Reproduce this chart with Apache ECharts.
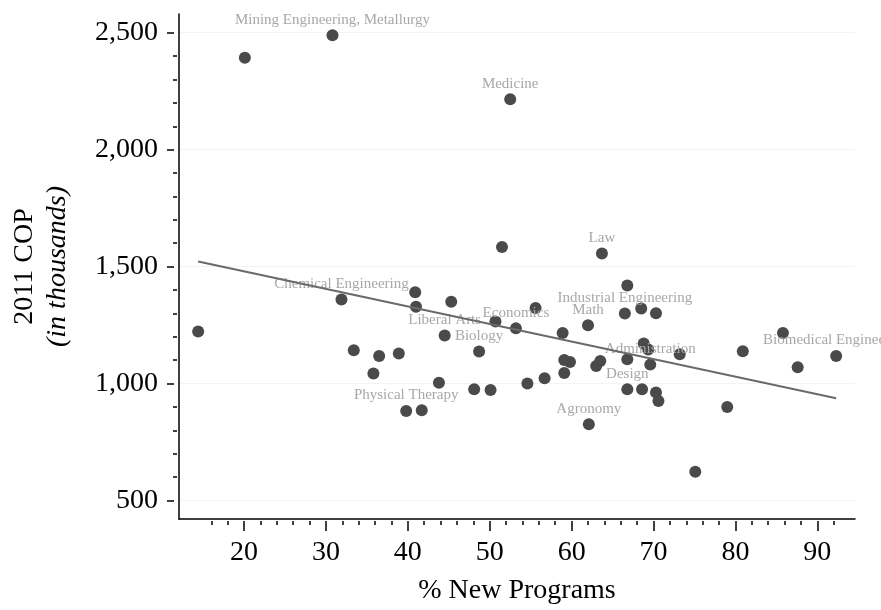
<!DOCTYPE html>
<html>
<head>
<meta charset="utf-8">
<script src="https://cdn.jsdelivr.net/npm/echarts@6/dist/echarts.min.js"></script>
<style>
  html, body { margin: 0; padding: 0; background: #fff; }
  #chart { width: 881px; height: 610px; }
</style>
</head>
<body>
<div id="chart"></div>
<script>
// % new programs (x) and 2011 COP in thousands (y)
const pctNew = [
  20.1, 30.8, 52.5, 14.4, 31.9, 40.9, 41.0, 45.3, 44.5, 33.4,
  36.5, 38.9, 35.8, 43.8, 39.8, 41.7, 48.7, 48.1, 50.1, 54.6,
  56.7, 59.1, 59.8, 59.1, 63.0, 63.5, 66.8, 68.8, 69.35, 69.6,
  73.2, 80.9, 87.6, 92.3, 66.8, 68.6, 70.3, 70.6, 79.0, 62.1,
  75.1, 51.5, 63.7, 66.8, 55.6, 50.7, 53.2, 58.9, 62.0, 66.5,
  68.5, 70.3, 85.8
];
const cop = [
  2393, 2489, 2216, 1223, 1359, 1390, 1328, 1350, 1206, 1142,
  1118, 1129, 1043, 1004, 883, 886, 1137, 976, 973, 1000,
  1023, 1101, 1092, 1045, 1075, 1096, 1104, 1171, 1146, 1081,
  1125, 1138, 1070, 1118, 976, 976, 962, 925, 900, 826,
  623, 1584, 1556, 1419, 1323, 1265, 1236, 1216, 1249, 1300,
  1321, 1301, 1216
];
const programs = [
  '', 'Mining Engineering, Metallurgy', 'Medicine', '', 'Chemical Engineering', '', '', '', 'Liberal Arts', '',
  '', '', '', '', 'Physical Therapy', '', 'Biology', '', '', '',
  '', '', '', '', '', '', '', '', '', 'Administration',
  '', '', '', 'Biomedical Engineering', 'Design', '', '', '', '', 'Agronomy',
  '', '', 'Law', '', '', '', 'Economics', '', 'Math', 'Industrial Engineering',
  '', '', ''
];

// fitted line end points
const fitX = [14.4, 92.3];
const fitY = [1522, 937];

const xTicks = [20, 30, 40, 50, 60, 70, 80, 90];
const xMinor = [16, 18, 22, 24, 26, 28, 32, 34, 36, 38, 42, 44, 46, 48, 52, 54, 56, 58,
  62, 64, 66, 68, 72, 74, 76, 78, 82, 84, 86, 88, 92];
const yTicks = [500, 1000, 1500, 2000, 2500];
const yMinor = [600, 700, 800, 900, 1100, 1200, 1300, 1400, 1600, 1700, 1800, 1900,
  2100, 2200, 2300, 2400];

const X_MIN = 12.06, X_MAX = 94.6;
const Y_MIN = 421, Y_MAX = 2580;
const serif = 'Liberation Serif';

const chart = echarts.init(document.getElementById('chart'));

const fmt = v => String(v).replace(/\B(?=(\d{3})+(?!\d))/g, ',');

// extra axes that only carry ticks (sit a little off the axis line)
const tickAxis = (pos, vals, len, off, min, max) => ({
  type: 'value', position: pos, min: min, max: max, offset: off,
  axisLine: { show: false },
  axisTick: { show: true, customValues: vals, length: len, lineStyle: { color: '#000', width: 1.5 } },
  axisLabel: { show: false },
  splitLine: { show: false }
});

const yMajor = tickAxis('left', yTicks, 7, 5, Y_MIN, Y_MAX);
yMajor.splitLine = { show: true, lineStyle: { color: '#f3f3f3', width: 1 } };

const option = {
  animation: false,
  backgroundColor: '#fff',
  grid: { left: 179, right: 26, top: 14, bottom: 90, containLabel: false },
  xAxis: [
    {
      type: 'value', position: 'bottom', min: X_MIN, max: X_MAX,
      name: '% New Programs', nameLocation: 'middle', nameGap: 58,
      nameTextStyle: { fontFamily: serif, fontSize: 28, color: '#000' },
      axisLine: { show: true, lineStyle: { color: '#000', width: 1.5 } },
      axisTick: { show: false },
      axisLabel: { customValues: xTicks, margin: 20, fontFamily: serif, fontSize: 28, color: '#000' },
      splitLine: { show: false }
    },
    tickAxis('bottom', xTicks, 10, 2, X_MIN, X_MAX),
    tickAxis('bottom', xMinor, 4, 2, X_MIN, X_MAX)
  ],
  yAxis: [
    {
      type: 'value', position: 'left', min: Y_MIN, max: Y_MAX,
      name: '{a|2011 COP}\n{b|(in thousands)}', nameLocation: 'middle', nameGap: 105, nameRotate: 90,
      nameTextStyle: {
        fontFamily: serif, fontSize: 28, color: '#000',
        rich: {
          a: { fontFamily: serif, fontSize: 28, lineHeight: 33, color: '#000' },
          b: { fontFamily: serif, fontSize: 28, lineHeight: 33, fontStyle: 'italic', color: '#000' }
        }
      },
      axisLine: { show: true, lineStyle: { color: '#000', width: 1.5 } },
      axisTick: { show: false },
      axisLabel: { customValues: yTicks, margin: 21, fontFamily: serif, fontSize: 28, color: '#000', formatter: fmt },
      splitLine: { show: false }
    },
    yMajor,
    tickAxis('left', yMinor, 4, 2, Y_MIN, Y_MAX)
  ],
  series: [
    {
      type: 'scatter',
      symbolSize: 12,
      itemStyle: { color: '#4a4a4a', opacity: 1 },
      label: {
        show: true, position: 'top', distance: 2, formatter: '{b}',
        fontFamily: serif, fontSize: 15, color: '#a8a8a8'
      },
      data: pctNew.map((x, i) => ({ value: [x, cop[i]], name: programs[i] })),
      z: 2
    },
    {
      type: 'line',
      showSymbol: false,
      symbol: 'none',
      lineStyle: { color: '#6a6a6a', width: 2 },
      data: fitX.map((x, i) => [x, fitY[i]]),
      z: 3
    }
  ]
};

chart.setOption(option);
</script>
</body>
</html>
